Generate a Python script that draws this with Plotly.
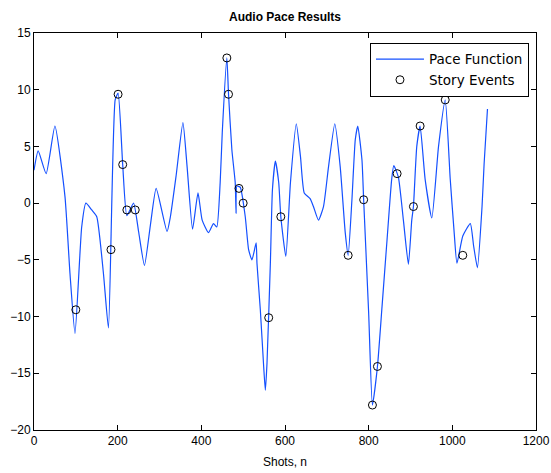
import plotly.graph_objects as go

# Pace function (traced)
pace_x = [0, 10, 29, 50, 74, 86, 98, 114, 124, 138, 150, 166, 178, 194, 201, 212, 222, 238, 250, 264, 278,
          292, 318, 326, 340, 356, 366, 379, 392, 402, 417, 429, 437, 445, 450, 461, 465, 473, 481, 483, 485,
          493, 505, 513, 521, 531, 533, 541, 549, 553, 557, 565, 570, 577, 585, 590, 602, 613, 627, 637, 646,
          660, 668, 680, 692, 704, 719, 732, 744, 751, 760, 768, 774, 784, 788, 800, 809, 821, 832, 844, 855,
          860, 871, 883, 895, 903, 907, 915, 923, 935, 951, 967, 983, 995, 1004, 1011, 1025, 1043, 1051, 1060,
          1071, 1076, 1084]
pace_y = [2.9, 4.6, 2.6, 6.8, 0.6, -6.2, -11.5, -2.1, 0.0, -0.6, -1.2, -6.2, -11.0, 9.1, 9.7, 3.4, -1.1, 0.0, -2.5, -5.5, -2.0,
          1.3, -2.5, -1.2, 2.5, 7.1, 3.2, -2.3, 0.9, -1.5, -2.6, -1.8, -2.1, 1.8, 6.2, 12.8, 9.6, 4.7, 1.8, -0.9, 1.5,
          1.4, -1.2, -4.1, -5.0, -3.5, -5.3, -9.4, -14.4, -16.5, -14.1, -5.3, 1.2, 3.7, 1.8, -1.2, -4.7, 1.8, 7.0, 4.1, 0.9,
          0.4, -0.3, -1.5, -0.3, 3.2, 7.0, 3.2, -2.6, -4.6, 0.3, 5.6, 6.8, 3.8, 0.3, -9.7, -17.8, -14.4, -9.1, -3.2, 2.1,
          3.3, 2.3, -1.5, -5.4, -1.5, -0.3, 5.0, 6.8, 2.1, -1.3, 5.0, 9.1, 2.1, -2.4, -5.3, -2.9, -1.8, -3.8, -5.7,
          -0.3, 3.5, 8.3]

# Story events
event_x = [100, 184, 201, 212, 222, 242, 461, 465, 490, 500, 561, 590, 751, 788, 809, 821, 868, 907, 923, 983, 1025, 1092]
event_y = [-9.4, -4.1, 9.6, 3.4, -0.6, -0.6, 12.8, 9.6, 1.3, 0.0, -10.1, -1.2, -4.6, 0.3, -17.8, -14.4, 2.6, -0.3, 6.8, 9.1, -4.6, 9.9]

x_ticks = [0, 200, 400, 600, 800, 1000, 1200]
y_ticks = [-20, -15, -10, -5, 0, 5, 10, 15]

FONT = "Liberation Sans, Arial"

fig = go.Figure()
fig.add_trace(go.Scatter(x=pace_x, y=pace_y, mode="lines", name="Pace Function",
                         line=dict(color="#1450ff", width=1.2, shape="spline", smoothing=0.5)))
fig.add_trace(go.Scatter(x=event_x, y=event_y, mode="markers", name="Story Events",
                         marker=dict(symbol="circle-open", size=8, color="black", line=dict(width=1, color="black"))))

axis_common = dict(showgrid=False, zeroline=False, showline=True, mirror="ticks", linecolor="black", linewidth=1,
                   ticks="inside", ticklen=5, tickcolor="black", automargin=False,
                   tickfont=dict(family=FONT, size=12, color="black"))

fig.update_layout(
    width=551, height=473,
    margin=dict(l=34, r=15, t=33, b=43),
    paper_bgcolor="white", plot_bgcolor="white",
    title=dict(text="<b>Audio Pace Results</b>", x=(34 + 536) / 2 / 551, xanchor="center",
               y=1 - 17 / 473, yanchor="middle", automargin=False,
               font=dict(family=FONT, size=12, color="black")),
    xaxis=dict(range=[0, 1200], tickvals=x_ticks, title=dict(text="Shots, n", standoff=10,
               font=dict(family=FONT, size=12, color="black")), **axis_common),
    yaxis=dict(range=[-20, 15], tickvals=y_ticks, **axis_common),
    legend=dict(x=0.986, y=0.975, xanchor="right", yanchor="top", bgcolor="white", bordercolor="black", borderwidth=1,
                itemwidth=48, font=dict(family="DejaVu Sans", size=13.5, color="black"), tracegroupgap=0),
    showlegend=True,
)

fig.write_html("out.html", config={"displayModeBar": False},
               post_script="document.body.style.margin='0';document.body.style.overflow='hidden';")
